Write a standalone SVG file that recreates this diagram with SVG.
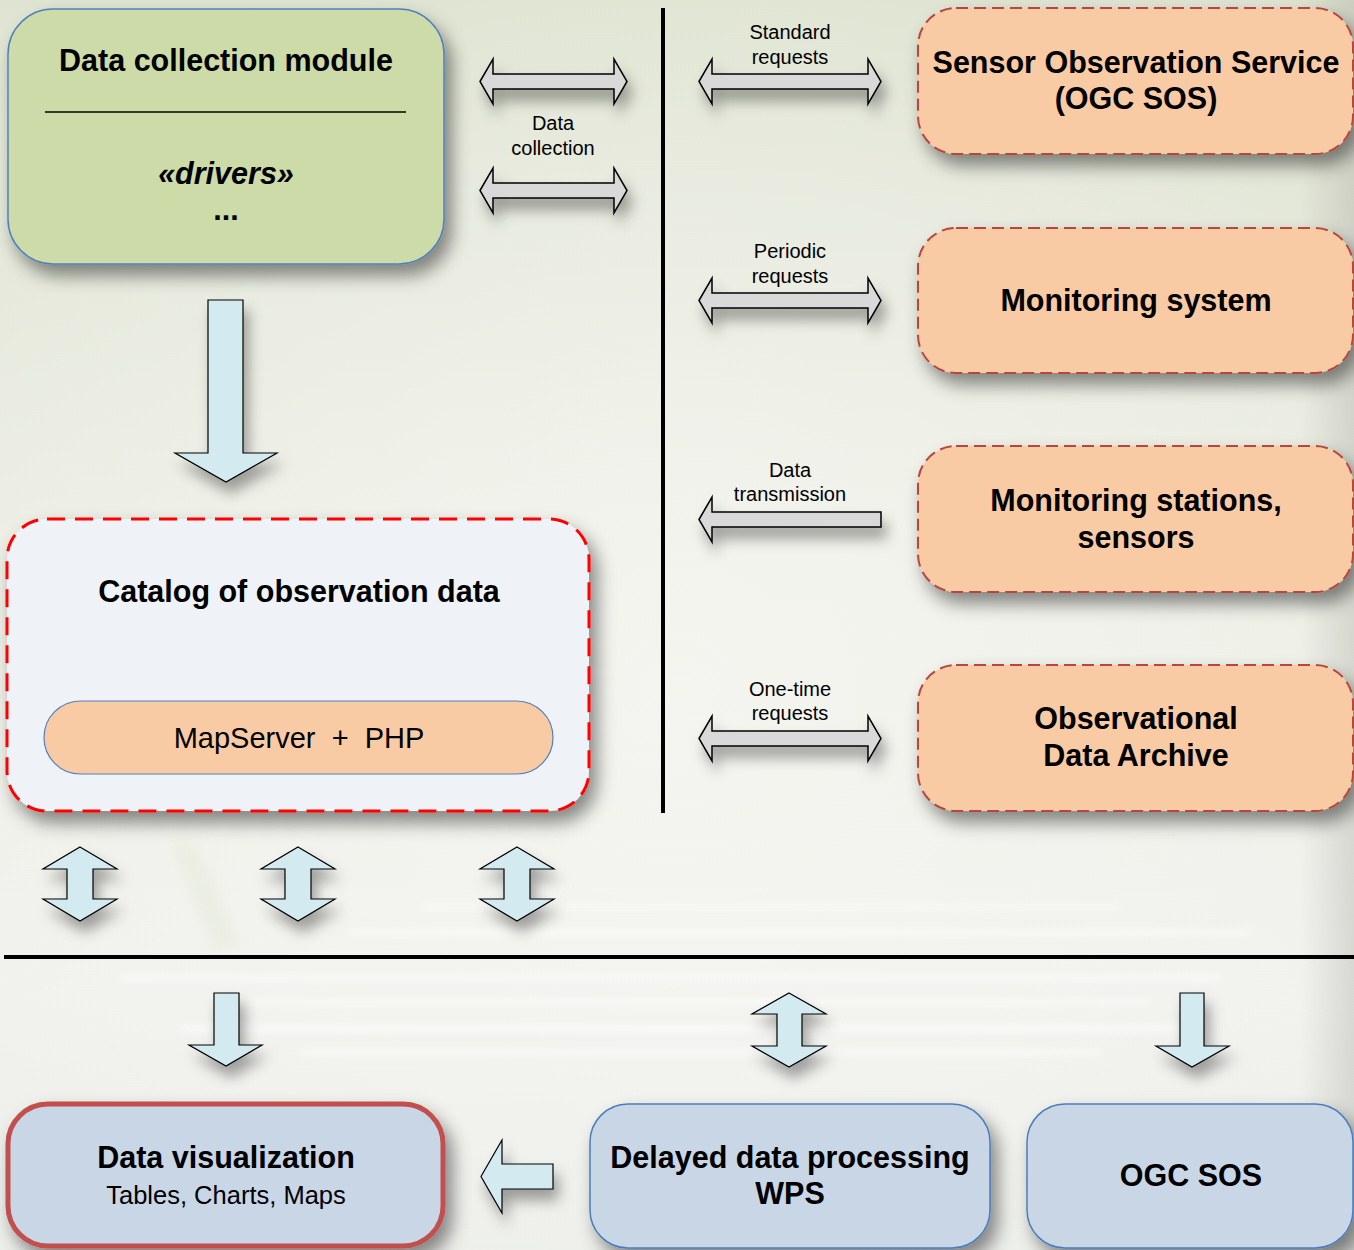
<svg xmlns="http://www.w3.org/2000/svg" width="1354" height="1250" viewBox="0 0 1354 1250">
  <defs>
    <linearGradient id="bg" x1="0" y1="0" x2="0" y2="1">
      <stop offset="0" stop-color="#dfe4d2"/>
      <stop offset="0.45" stop-color="#eceee4"/>
      <stop offset="0.8" stop-color="#f1f2ee"/>
      <stop offset="1" stop-color="#eceeea"/>
    </linearGradient>
    <radialGradient id="glow" cx="0.5" cy="0.55" r="0.6">
      <stop offset="0" stop-color="#f6f6f2" stop-opacity="0.8"/>
      <stop offset="1" stop-color="#f6f6f2" stop-opacity="0"/>
    </radialGradient>
    <linearGradient id="edge" x1="0" y1="0" x2="1" y2="0">
      <stop offset="0" stop-color="#9a9a94" stop-opacity="0"/>
      <stop offset="1" stop-color="#9a9a94" stop-opacity="0.3"/>
    </linearGradient>
    <filter id="shadow" x="-20%" y="-20%" width="150%" height="160%">
      <feDropShadow dx="7" dy="11" stdDeviation="9" flood-color="#000" flood-opacity="0.45"/>
    </filter>
    <filter id="ashadow" x="-30%" y="-30%" width="170%" height="190%">
      <feDropShadow dx="5" dy="11" stdDeviation="7" flood-color="#000" flood-opacity="0.35"/>
    </filter>
    <filter id="soft" x="-10%" y="-200%" width="120%" height="500%">
      <feGaussianBlur stdDeviation="3"/>
    </filter>
    <filter id="haze" x="-50%" y="-50%" width="200%" height="200%">
      <feGaussianBlur stdDeviation="6"/>
    </filter>
    <style>
      text { font-family: "Liberation Sans", Arial, sans-serif; fill: #000; text-anchor: middle; }
      .title { font-size: 30.5px; font-weight: bold; }
      .label { font-size: 20px; }
      .sub { font-size: 25.5px; }
      .harrow { fill: #d9d9d9; stroke: #000; stroke-width: 1.5; stroke-linejoin: miter; filter: url(#ashadow); }
      .varrow { fill: #d3ebf0; stroke: #000; stroke-width: 1.2; filter: url(#ashadow); }
      .ext { fill: #f9cba4; stroke: #b5473f; stroke-width: 2; stroke-dasharray: 12 6; filter: url(#shadow); }
      .out { fill: #c9d6e6; stroke: #4a7ebb; stroke-width: 1.5; filter: url(#shadow); }
    </style>
  </defs>

  <!-- background -->
  <rect width="1354" height="1250" fill="url(#bg)"/>
  <rect width="1354" height="1250" fill="url(#glow)"/>
  <rect x="1300" y="0" width="54" height="1250" fill="url(#edge)"/>
  <g opacity="0.55" filter="url(#soft)" fill="#ffffff">
    <rect x="120" y="975" width="1100" height="6"/>
    <rect x="250" y="1000" width="900" height="5"/>
    <rect x="180" y="1025" width="1000" height="7"/>
    <rect x="300" y="1050" width="800" height="5"/>
    <rect x="350" y="930" width="900" height="5"/>
    <rect x="420" y="905" width="700" height="4"/>
  </g>
  <path d="M170,840 L195,845 L240,945 L215,952 Z" fill="#dfe6cc" opacity="0.35" filter="url(#haze)"/>

  <!-- separators -->
  <line x1="663" y1="8" x2="663" y2="813" stroke="#000" stroke-width="4"/>
  <line x1="4" y1="957" x2="1354" y2="957" stroke="#000" stroke-width="4"/>

  <!-- nodes -->
  <g id="data-collection-module">
    <rect x="8" y="9" width="436" height="255" rx="45" fill="#cddba8" stroke="#4f81bd" stroke-width="1.5" filter="url(#shadow)"/>
    <text class="title" x="226" y="71">Data collection module</text>
    <line x1="45" y1="112" x2="406" y2="112" stroke="#000" stroke-width="1.5"/>
    <text class="title" x="226" y="184" font-style="italic">«drivers»</text>
    <text class="title" x="226" y="220">...</text>
  </g>

  <g id="catalog">
    <rect x="7" y="519" width="582" height="292" rx="40" fill="#eff2f7" stroke="#ff0000" stroke-width="3" stroke-dasharray="18 10" filter="url(#shadow)"/>
    <text class="title" x="299" y="602">Catalog of observation data</text>
    <g id="mapserver-php">
      <rect x="44" y="701" width="509" height="73" rx="36.5" fill="#f9cba4" stroke="#4f81bd" stroke-width="1.2"/>
      <text x="299" y="748" font-size="29" xml:space="preserve" style="white-space:pre">MapServer  +  PHP</text>
    </g>
  </g>

  <g id="sos">
    <rect class="ext" x="918" y="8" width="435" height="146" rx="38"/>
    <text class="title" x="1136" y="73">Sensor Observation Service</text>
    <text class="title" x="1136" y="109">(OGC SOS)</text>
  </g>

  <g id="monitoring-system">
    <rect class="ext" x="918" y="228" width="435" height="145" rx="38"/>
    <text class="title" x="1136" y="311">Monitoring system</text>
  </g>

  <g id="monitoring-stations">
    <rect class="ext" x="918" y="446" width="435" height="146" rx="38"/>
    <text class="title" x="1136" y="511">Monitoring stations,</text>
    <text class="title" x="1136" y="548">sensors</text>
  </g>

  <g id="data-archive">
    <rect class="ext" x="918" y="665" width="435" height="146" rx="38"/>
    <text class="title" x="1136" y="729">Observational</text>
    <text class="title" x="1136" y="766">Data Archive</text>
  </g>

  <g id="data-visualization">
    <rect x="8" y="1104" width="435" height="142" rx="40" fill="#c9d6e6" stroke="#c0504d" stroke-width="5" filter="url(#shadow)"/>
    <text class="title" x="226" y="1168">Data visualization</text>
    <text class="sub" x="226" y="1204">Tables, Charts, Maps</text>
  </g>

  <g id="wps">
    <rect class="out" x="590" y="1104" width="400" height="144" rx="38"/>
    <text class="title" x="790" y="1168">Delayed data processing</text>
    <text class="title" x="790" y="1204">WPS</text>
  </g>

  <g id="ogc-sos">
    <rect class="out" x="1027" y="1104" width="326" height="144" rx="38"/>
    <text class="title" x="1191" y="1186">OGC SOS</text>
  </g>

  <!-- connectors -->
  <g id="connectors">
    <!-- data collection, two-way -->
    <path class="harrow" d="M480,81.5 L493,59 L493,74 L614,74 L614,59 L627,81.5 L614,104 L614,89 L493,89 L493,104 Z"/>
    <path class="harrow" d="M480,190.5 L493,168 L493,183 L614,183 L614,168 L627,190.5 L614,213 L614,198 L493,198 L493,213 Z"/>
    <text class="label" x="553" y="130">Data</text>
    <text class="label" x="553" y="155">collection</text>

    <!-- standard requests -->
    <path class="harrow" d="M699,81.5 L712,59 L712,74 L868,74 L868,59 L881,81.5 L868,104 L868,89 L712,89 L712,104 Z"/>
    <text class="label" x="790" y="39">Standard</text>
    <text class="label" x="790" y="64">requests</text>

    <!-- periodic requests -->
    <path class="harrow" d="M699,300.5 L712,278 L712,293 L868,293 L868,278 L881,300.5 L868,323 L868,308 L712,308 L712,323 Z"/>
    <text class="label" x="790" y="258">Periodic</text>
    <text class="label" x="790" y="283">requests</text>

    <!-- data transmission -->
    <path class="harrow" d="M699,519.5 L712,497 L712,512 L881,512 L881,527 L712,527 L712,542 Z"/>
    <text class="label" x="790" y="477">Data</text>
    <text class="label" x="790" y="501">transmission</text>

    <!-- one-time requests -->
    <path class="harrow" d="M699,738.5 L712,716 L712,731 L868,731 L868,716 L881,738.5 L868,761 L868,746 L712,746 L712,761 Z"/>
    <text class="label" x="790" y="696">One-time</text>
    <text class="label" x="790" y="720">requests</text>

    <!-- module to catalog -->
    <path class="varrow" d="M208,300 L243,300 L243,453 L277,453 L226,482 L175,453 L208,453 Z"/>

    <!-- catalog to lower tier -->
    <path class="varrow" d="M80,847 L117,869 L93,869 L93,899 L117,899 L80,921 L43,899 L67,899 L67,869 L43,869 Z"/>
    <path class="varrow" d="M298,847 L335,869 L311,869 L311,899 L335,899 L298,921 L261,899 L285,899 L285,869 L261,869 Z"/>
    <path class="varrow" d="M517,847 L554,869 L530,869 L530,899 L554,899 L517,921 L480,899 L504,899 L504,869 L480,869 Z"/>

    <!-- into lower services -->
    <path class="varrow" d="M214,993 L239,993 L239,1045 L262,1045 L226,1066 L189,1045 L214,1045 Z"/>
    <path class="varrow" d="M789,993 L826,1014 L802,1014 L802,1046 L826,1046 L789,1067 L752,1046 L777,1046 L777,1014 L752,1014 Z"/>
    <path class="varrow" d="M1180,993 L1204,993 L1204,1046 L1229,1046 L1192,1067 L1156,1046 L1180,1046 Z"/>

    <!-- processing to visualization -->
    <path class="varrow" d="M481,1176.5 L502,1140 L502,1164 L553,1164 L553,1189 L502,1189 L502,1213 Z"/>
  </g>
</svg>
